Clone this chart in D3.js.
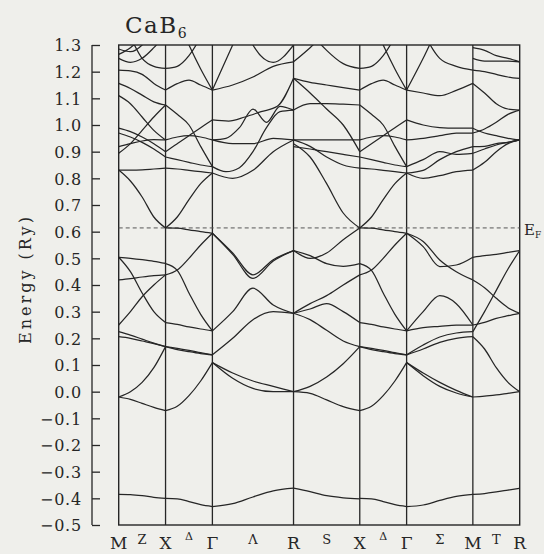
<!DOCTYPE html>
<html><head><meta charset="utf-8">
<script src="https://cdn.jsdelivr.net/npm/d3@7"></script>
<style>body{margin:0;background:#efefeb;} svg{display:block}</style>
</head><body><svg id="c" width="544" height="554"></svg>
<script>
// ---------------- data ----------------
const kPoints = ["M","X","Γ","R","X","Γ","M","R"];
const segLengths = [0.5, 0.5, 0.866, 0.707, 0.5, 0.707, 0.5];   // in 2π/a
const midLabels = ["Z","Δ","Λ","S","Δ","Σ","T"];
const yTickValues = [-0.5,-0.4,-0.3,-0.2,-0.1,0.0,0.1,0.2,0.3,0.4,0.5,0.6,0.7,0.8,0.9,1.0,1.1,1.2,1.3];
const fermiEnergy = 0.614;
const title = "CaB";
const titleSub = "6";

// band energies (Ry), evenly spaced samples along each segment
const bandsMX = [
 [-0.385,-0.386,-0.39,-0.396,-0.40],
 [-0.02,-0.029,-0.044,-0.059,-0.071],
 [-0.02,0.0,0.035,0.09,0.169],
 [0.206,0.20,0.19,0.18,0.169],
 [0.225,0.212,0.197,0.182,0.169],
 [0.25,0.30,0.356,0.40,0.438],
 [0.504,0.45,0.37,0.30,0.259],
 [0.504,0.50,0.495,0.489,0.481],
 [0.419,0.424,0.43,0.435,0.438],
 [0.831,0.79,0.73,0.655,0.614],
 [0.831,0.831,0.832,0.835,0.838],
 [0.894,0.93,0.98,1.03,1.075],
 [0.919,0.93,0.94,0.945,0.944],
 [0.97,0.955,0.935,0.91,0.88],
 [0.988,0.975,0.955,0.93,0.90],
 [1.11,1.08,1.03,0.98,0.944],
 [1.156,1.137,1.112,1.087,1.075],
 [1.206,1.203,1.19,1.156,1.131],
 [1.42,1.33,1.25,1.22,1.212],
 [1.25,1.235,1.25,1.29,1.34],
 [1.265,1.29,1.33,1.40,1.46],
 [1.285,1.275,1.30,1.36,1.42]
];
const bandsXG = [
 [-0.40,-0.402,-0.412,-0.424,-0.431],
 [-0.071,-0.055,-0.015,0.04,0.109],
 [0.169,0.162,0.155,0.146,0.138],
 [0.169,0.158,0.15,0.143,0.138],
 [0.259,0.252,0.243,0.235,0.228],
 [0.48,0.455,0.37,0.29,0.228],
 [0.438,0.456,0.50,0.55,0.594],
 [0.614,0.613,0.607,0.60,0.594],
 [0.614,0.655,0.72,0.78,0.82],
 [0.838,0.835,0.83,0.825,0.82],
 [0.88,0.87,0.86,0.85,0.844],
 [0.90,0.93,0.96,0.99,1.019],
 [0.944,0.955,0.96,0.955,0.944],
 [1.075,1.04,1.0,0.92,0.844],
 [1.131,1.155,1.168,1.15,1.131],
 [1.212,1.22,1.26,1.33,1.42],
 [1.5,1.40,1.30,1.21,1.131]
];
const bandsGR = [
 [-0.431,-0.42,-0.395,-0.372,-0.362],
 [0.109,0.07,0.04,0.02,0.0],
 [0.109,0.05,0.012,0.0,0.0],
 [0.138,0.20,0.27,0.30,0.294],
 [0.228,0.30,0.388,0.325,0.294],
 [0.594,0.515,0.425,0.49,0.529],
 [0.594,0.52,0.438,0.495,0.529],
 [0.82,0.80,0.83,0.90,0.944],
 [0.844,0.825,0.84,0.90,0.99,1.05,1.056],
 [0.944,0.93,0.93,0.95,0.944],
 [0.944,0.95,0.99,1.06,1.01,1.07,1.056],
 [1.019,1.015,1.03,1.05,1.07,1.175],
 [1.131,1.15,1.18,1.22,1.237],
 [1.131,1.30,1.47,1.6,1.7],
 [1.7,1.5,1.30,1.235,1.30]
];
const bandsRX = [
 [-0.362,-0.375,-0.39,-0.398,-0.402],
 [0.0,-0.006,-0.031,-0.056,-0.071],
 [0.0,0.02,0.055,0.105,0.169],
 [0.294,0.27,0.23,0.19,0.169],
 [0.294,0.31,0.33,0.30,0.259],
 [0.294,0.33,0.36,0.40,0.438],
 [0.529,0.51,0.48,0.47,0.48],
 [0.529,0.50,0.52,0.57,0.614],
 [0.93,0.88,0.78,0.67,0.614],
 [0.944,0.944,0.944,0.944,0.944],
 [0.919,0.91,0.90,0.89,0.88],
 [0.944,0.92,0.88,0.85,0.838],
 [1.056,1.08,1.08,1.078,1.075],
 [1.175,1.16,1.15,1.14,1.131],
 [1.175,1.12,1.06,1.00,0.90],
 [1.237,1.29,1.35,1.4,1.45],
 [1.45,1.35,1.28,1.23,1.212]
];
const bandsGM = [
 [-0.431,-0.425,-0.408,-0.393,-0.385],
 [0.109,0.06,0.02,-0.005,-0.02],
 [0.109,0.07,0.035,0.005,-0.02],
 [0.138,0.16,0.185,0.20,0.206],
 [0.138,0.175,0.205,0.22,0.225],
 [0.228,0.24,0.245,0.25,0.25],
 [0.228,0.30,0.36,0.33,0.25],
 [0.594,0.544,0.469,0.475,0.504],
 [0.594,0.563,0.494,0.45,0.419],
 [0.82,0.83,0.87,0.90,0.919],
 [0.844,0.87,0.90,0.89,0.894],
 [0.82,0.80,0.81,0.825,0.831],
 [0.944,0.95,0.96,0.97,0.97],
 [1.019,1.00,0.99,0.988,0.988],
 [1.131,1.12,1.11,1.13,1.156],
 [1.131,1.25,1.38,1.5,1.6],
 [1.5,1.35,1.25,1.22,1.206]
];
const bandsMR = [
 [-0.385,-0.382,-0.376,-0.369,-0.362],
 [-0.02,-0.017,-0.012,-0.006,0.0],
 [0.206,0.16,0.09,0.035,0.0],
 [0.225,0.30,0.38,0.46,0.529],
 [0.25,0.26,0.275,0.285,0.294],
 [0.419,0.39,0.35,0.315,0.294],
 [0.504,0.51,0.515,0.522,0.529],
 [0.831,0.86,0.90,0.93,0.944],
 [0.894,0.91,0.925,0.935,0.944],
 [0.919,0.92,0.93,0.935,0.944],
 [0.97,0.985,1.01,1.04,1.056],
 [0.988,0.97,0.96,0.95,0.944],
 [1.156,1.12,1.08,1.06,1.056],
 [1.206,1.20,1.19,1.18,1.175],
 [1.25,1.24,1.24,1.24,1.237],
 [1.29,1.28,1.26,1.25,1.237]
];
const segmentBands = [bandsMX, bandsXG, bandsGR, bandsRX, bandsXG, bandsGM, bandsMR];

// ---------------- drawing ----------------
const svg = d3.select("#c");
const ink = "#262626";
const serif = "'DejaVu Serif', serif";
const kStarts = [0];
segLengths.forEach((l,i)=>kStarts.push(kStarts[i]+l));
const kTotal = kStarts[kStarts.length-1];

const x = d3.scaleLinear().domain([0,kTotal]).range([118.7,519.7]);
const y = d3.scaleLinear().domain([-0.5,1.3]).range([525,45]);

svg.append("rect").attr("width",544).attr("height",554).attr("fill","#efefeb");

svg.append("defs").append("clipPath").attr("id","plotclip")
  .append("rect").attr("x",x(0)).attr("y",y(1.3)).attr("width",x(kTotal)-x(0)).attr("height",y(-0.5)-y(1.3));

// y axis (detached, ticks pointing right)
const yAxis = d3.axisRight(y).tickValues(yTickValues).tickSize(8).tickFormat(d3.format(".1f"));
const ya = svg.append("g").attr("transform","translate(92,0)").call(yAxis);
ya.select(".domain").attr("d",`M0,${y(1.3)}V${y(-0.5)}`).attr("stroke",ink).attr("stroke-width",1.3);
ya.selectAll(".tick line").attr("stroke",ink).attr("stroke-width",1.3);
ya.selectAll(".tick text").attr("x",-10).attr("text-anchor","end").attr("dy","0.36em")
  .attr("font-family",serif).attr("font-size",16).attr("letter-spacing",0.8).attr("fill",ink)
  .text(d=> (d<0?"\u2212":"") + d3.format(".1f")(Math.abs(d)));

// frame
svg.append("rect").attr("x",x(0)).attr("y",y(1.3)).attr("width",x(kTotal)-x(0)).attr("height",y(-0.5)-y(1.3))
  .attr("fill","none").attr("stroke",ink).attr("stroke-width",1.4);

// high-symmetry vertical lines
svg.append("g").selectAll("line").data(kStarts.slice(1,-1)).join("line")
  .attr("x1",d=>x(d)).attr("x2",d=>x(d)).attr("y1",y(1.3)).attr("y2",y(-0.5))
  .attr("stroke",ink).attr("stroke-width",1.3);

// Fermi level
svg.append("line").attr("x1",x(0)).attr("x2",x(kTotal)).attr("y1",y(fermiEnergy)).attr("y2",y(fermiEnergy))
  .attr("stroke","#555").attr("stroke-width",1).attr("stroke-dasharray","4,3");
const ef = svg.append("text").attr("x",524).attr("y",y(fermiEnergy)+7)
  .attr("font-family",serif).attr("font-size",15).attr("fill",ink);
ef.append("tspan").text("E");
ef.append("tspan").attr("font-size",9).attr("dy",3).text("F");

// bands
const line = d3.line().x(d=>x(d[0])).y(d=>y(d[1])).curve(d3.curveMonotoneX);
const bandG = svg.append("g").attr("clip-path","url(#plotclip)");
segmentBands.forEach((bands,s)=>{
  const k0 = kStarts[s], len = segLengths[s];
  bands.forEach(b=>{
    const n = b.length-1;
    const pts = b.map((e,i)=>[k0 + len*i/n, e]);
    bandG.append("path").attr("d",line(pts)).attr("fill","none")
      .attr("stroke",ink).attr("stroke-width",1.25);
  });
});

// k-point labels
const lab = svg.append("g").attr("font-family",serif).attr("fill",ink).attr("text-anchor","middle");
lab.selectAll("text.main").data(kPoints).join("text").attr("class","main")
  .attr("x",(d,i)=>x(kStarts[i])).attr("y",549).attr("font-size",17).text(d=>d);
lab.selectAll("text.mid").data(midLabels).join("text").attr("class","mid")
  .attr("x",(d,i)=>x(kStarts[i]+segLengths[i]/2)).attr("y",d=>d==="Δ"?540:544)
  .attr("font-size",d=>d==="Δ"?11:13).text(d=>d);

// y label
svg.append("text").attr("transform","translate(31,279) rotate(-90)").attr("text-anchor","middle")
  .attr("font-family",serif).attr("font-size",16).attr("letter-spacing",3).attr("fill",ink)
  .text("Energy (Ry)");

// title
const t = svg.append("text").attr("x",125).attr("y",33).attr("font-family",serif)
  .attr("font-size",23).attr("fill",ink).attr("letter-spacing",1.5);
t.append("tspan").text(title);
t.append("tspan").attr("font-size",14).attr("dy",5).text(titleSub);
</script></body></html>
